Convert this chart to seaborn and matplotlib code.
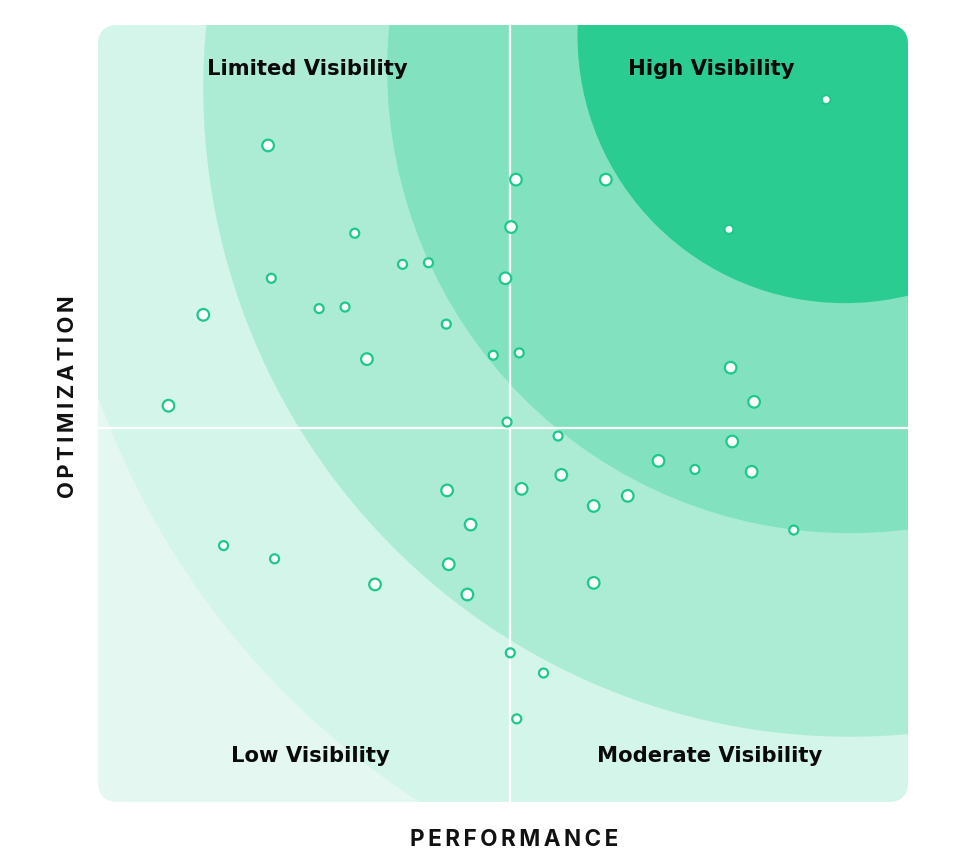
import matplotlib.pyplot as plt
from matplotlib.patches import Ellipse, FancyBboxPatch
import pandas as pd
import seaborn as sns

# --- data -----------------------------------------------------------------
performance = [89.9, 77.9, 62.7, 51.6, 51.0, 50.3, 52.0, 48.8, 50.5, 21.0,
               31.7, 37.6, 40.8, 21.4, 27.3, 30.5, 43.0, 33.2, 13.0, 8.7,
               78.1, 81.0, 56.8, 78.3, 69.2, 73.7, 80.7, 57.2, 52.3, 65.4,
               61.2, 43.1, 46.0, 85.9, 15.5, 21.8, 34.2, 43.3, 45.6, 61.2,
               50.9, 55.0, 51.7]
optimization = [90.4, 73.7, 80.1, 80.1, 74.0, 67.4, 57.8, 57.5, 48.9, 84.5,
                73.2, 69.2, 69.4, 67.4, 63.5, 63.7, 61.5, 57.0, 62.7, 51.0,
                55.9, 51.5, 47.1, 46.4, 43.9, 42.8, 42.5, 42.1, 40.3, 39.4,
                38.1, 40.1, 35.7, 35.0, 33.0, 31.3, 28.0, 30.6, 26.7, 28.2,
                19.2, 16.6, 10.7]
marker = ['small', 'small', 'big', 'big', 'big', 'big', 'small', 'small', 'small', 'big',
          'small', 'small', 'small', 'small', 'small', 'small', 'small', 'big', 'big', 'big',
          'big', 'big', 'small', 'big', 'big', 'small', 'big', 'big', 'big', 'big',
          'big', 'big', 'big', 'small', 'small', 'small', 'big', 'big', 'big', 'big',
          'small', 'small', 'small']

# visibility bands (outermost first): centre x, centre y, radius x, radius y
band_cx = [92.8, 92.8, 92.8, 92.2]
band_cy = [86.4, 91.9, 94.3, 98.6]
band_rx = [98.4, 79.8, 57.1, 33.0]
band_ry = [102.6, 83.5, 59.7, 34.4]
band_colors = ['#d4f5ea', '#acecd5', '#82e2c0', '#2bcc92']

quadrants = ['Limited Visibility', 'High Visibility', 'Low Visibility', 'Moderate Visibility']
quad_x = [25.9, 75.7, 26.2, 75.5]
quad_y = [94.3, 94.3, 5.9, 5.9]

split_x = 50.9
split_y = 48.1

df = pd.DataFrame({'performance': performance, 'optimization': optimization, 'marker': marker})

# --- plot -----------------------------------------------------------------
fig = plt.figure(figsize=(9.62, 8.61), dpi=100)
ax = fig.add_axes([98 / 962, 59 / 861, 810 / 962, 777 / 861])
ax.set_xlim(0, 100)
ax.set_ylim(0, 100)
ax.axis('off')

frame = FancyBboxPatch((0, 0), 100, 100, boxstyle='round,pad=0,rounding_size=2.5',
                       mutation_aspect=1.04, fc='#e5f7f1', ec='none', zorder=0)
ax.add_patch(frame)

for cx, cy, rx, ry, col in zip(band_cx, band_cy, band_rx, band_ry, band_colors):
    e = Ellipse((cx, cy), 2 * rx, 2 * ry, fc=col, ec='none', zorder=1)
    ax.add_patch(e)
    e.set_clip_path(frame)

vl = ax.axvline(split_x, color='white', lw=1.6, zorder=2)
hl = ax.axhline(split_y, color='white', lw=1.6, zorder=2)
vl.set_clip_path(frame)
hl.set_clip_path(frame)

sns.scatterplot(data=df, x='performance', y='optimization', size='marker',
                sizes={'big': 70, 'small': 42}, color='white', edgecolor='#1cc98b',
                linewidth=1.6, legend=False, ax=ax, zorder=3, clip_on=False)

for label, x, y in zip(quadrants, quad_x, quad_y):
    ax.text(x, y, label, ha='center', va='center', fontsize=15.2, fontweight='bold',
            family=['DejaVu Sans'], color='#0a0a0a', zorder=4)

fig.text(514 / 962, 1 - 840 / 861, 'P E R F O R M A N C E'.replace(' ', '\u2009'),
         ha='center', va='center', fontsize=16.2, fontweight='bold',
         family=['Inter', 'DejaVu Sans'], color='#111111')
fig.text(68 / 962, 1 - 397 / 861, 'O P T I M I Z A T I O N'.replace(' ', '\u2009'),
         ha='center', va='center', rotation=90, fontsize=15.8, fontweight='bold',
         family=['Inter', 'DejaVu Sans'], color='#111111')

fig.savefig('out.png', dpi=100)
